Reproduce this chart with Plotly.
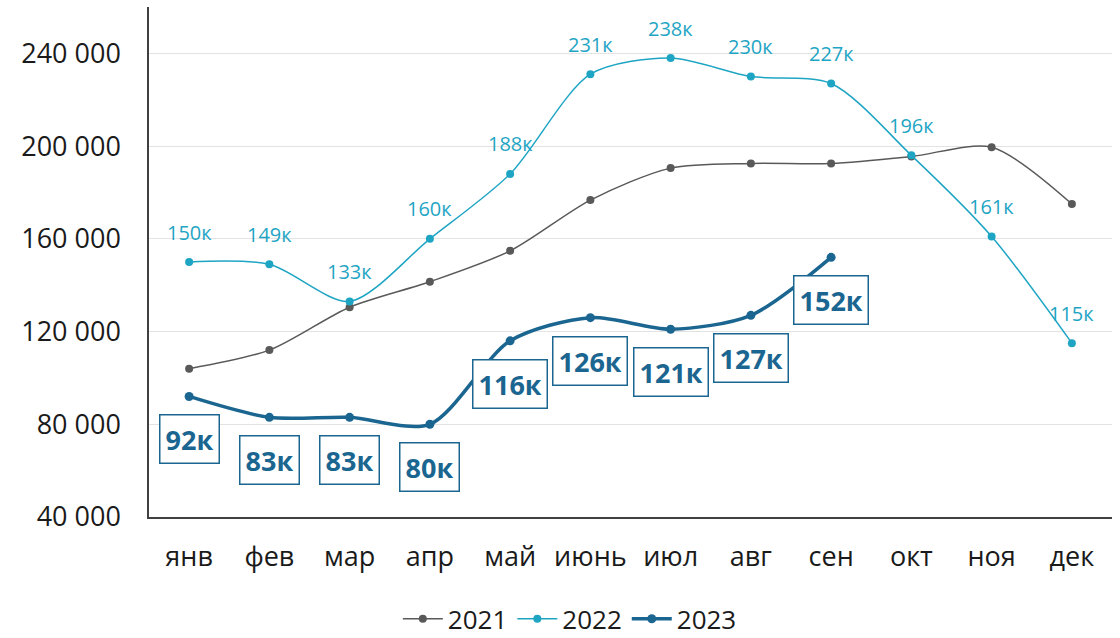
import plotly.graph_objects as go

months = ["янв", "фев", "мар", "апр", "май", "июнь", "июл", "авг", "сен", "окт", "ноя", "дек"]
y2021 = [104000, 112000, 130500, 141500, 154800, 176700, 190500, 192500, 192500, 195500, 199500, 175000]
y2022 = [150000, 149000, 133000, 160000, 188000, 231000, 238000, 230000, 227000, 196000, 161000, 115000]
y2023 = [92000, 83000, 83000, 80000, 116000, 126000, 121000, 127000, 152000]
labels2022 = ["150к", "149к", "133к", "160к", "188к", "231к", "238к", "230к", "227к", "196к", "161к", "115к"]
labels2023 = ["92к", "83к", "83к", "80к", "116к", "126к", "121к", "127к", "152к"]
yticks = [40000, 80000, 120000, 160000, 200000, 240000]
yticklabels = ["40 000", "80 000", "120 000", "160 000", "200 000", "240 000"]

C21 = "#595959"
C22 = "#1FA5C4"
C23 = "#1B6690"
FONT = "Open Sans"

fig = go.Figure()
fig.add_trace(go.Scatter(x=months, y=y2021, name="2021", mode="lines+markers",
                         line=dict(color=C21, width=1.5, shape="spline", smoothing=0.8),
                         marker=dict(size=8, color=C21)))
fig.add_trace(go.Scatter(x=months, y=y2022, name="2022", mode="lines+markers",
                         line=dict(color=C22, width=1.5, shape="spline", smoothing=0.8),
                         marker=dict(size=8, color=C22)))
fig.add_trace(go.Scatter(x=months[:len(y2023)], y=y2023, name="2023", mode="lines+markers",
                         line=dict(color=C23, width=3.5, shape="spline", smoothing=0.8),
                         marker=dict(size=9, color=C23)))

for m, v, t in zip(months, y2022, labels2022):
    fig.add_annotation(x=m, y=v, text=t, showarrow=False, yshift=30,
                       font=dict(family=FONT, size=20, color=C22))
for m, v, t in zip(months, y2023, labels2023):
    fig.add_annotation(x=m, y=v, text="<b>" + t + "</b>", showarrow=False, yshift=-43,
                       font=dict(family=FONT, size=27, color=C23),
                       bgcolor="white", bordercolor=C23, borderwidth=1.5, borderpad=5)

fig.update_layout(
    width=1120, height=638,
    margin=dict(l=149, r=8, t=7, b=121),
    paper_bgcolor="white", plot_bgcolor="white",
    font=dict(family=FONT, size=27, color="#1a1a1a"),
    showlegend=True,
    legend=dict(orientation="h", x=0.437, xanchor="center",
                yref="container", y=0.03, yanchor="middle",
                font=dict(family=FONT, size=26, color="#1a1a1a"), itemwidth=40,
                traceorder="normal"),
)
fig.update_xaxes(type="category", range=[-0.5, 11.5], showgrid=False, automargin=False,
                 showline=True, linecolor="#404040", linewidth=1.5,
                 ticks="", ticklabelstandoff=15, tickfont=dict(size=27, color="#1a1a1a"))
fig.update_yaxes(range=[40000, 260000], tickvals=yticks, ticktext=yticklabels, automargin=False,
                 showgrid=True, gridcolor="#e3e3e3", gridwidth=1,
                 showline=True, linecolor="#404040", linewidth=1.5,
                 ticks="", ticklabelstandoff=21, zeroline=False,
                 tickfont=dict(size=27, color="#1a1a1a"))

fig.write_html("out.html", config={"displayModeBar": False},
               post_script="document.body.style.margin='0';")
